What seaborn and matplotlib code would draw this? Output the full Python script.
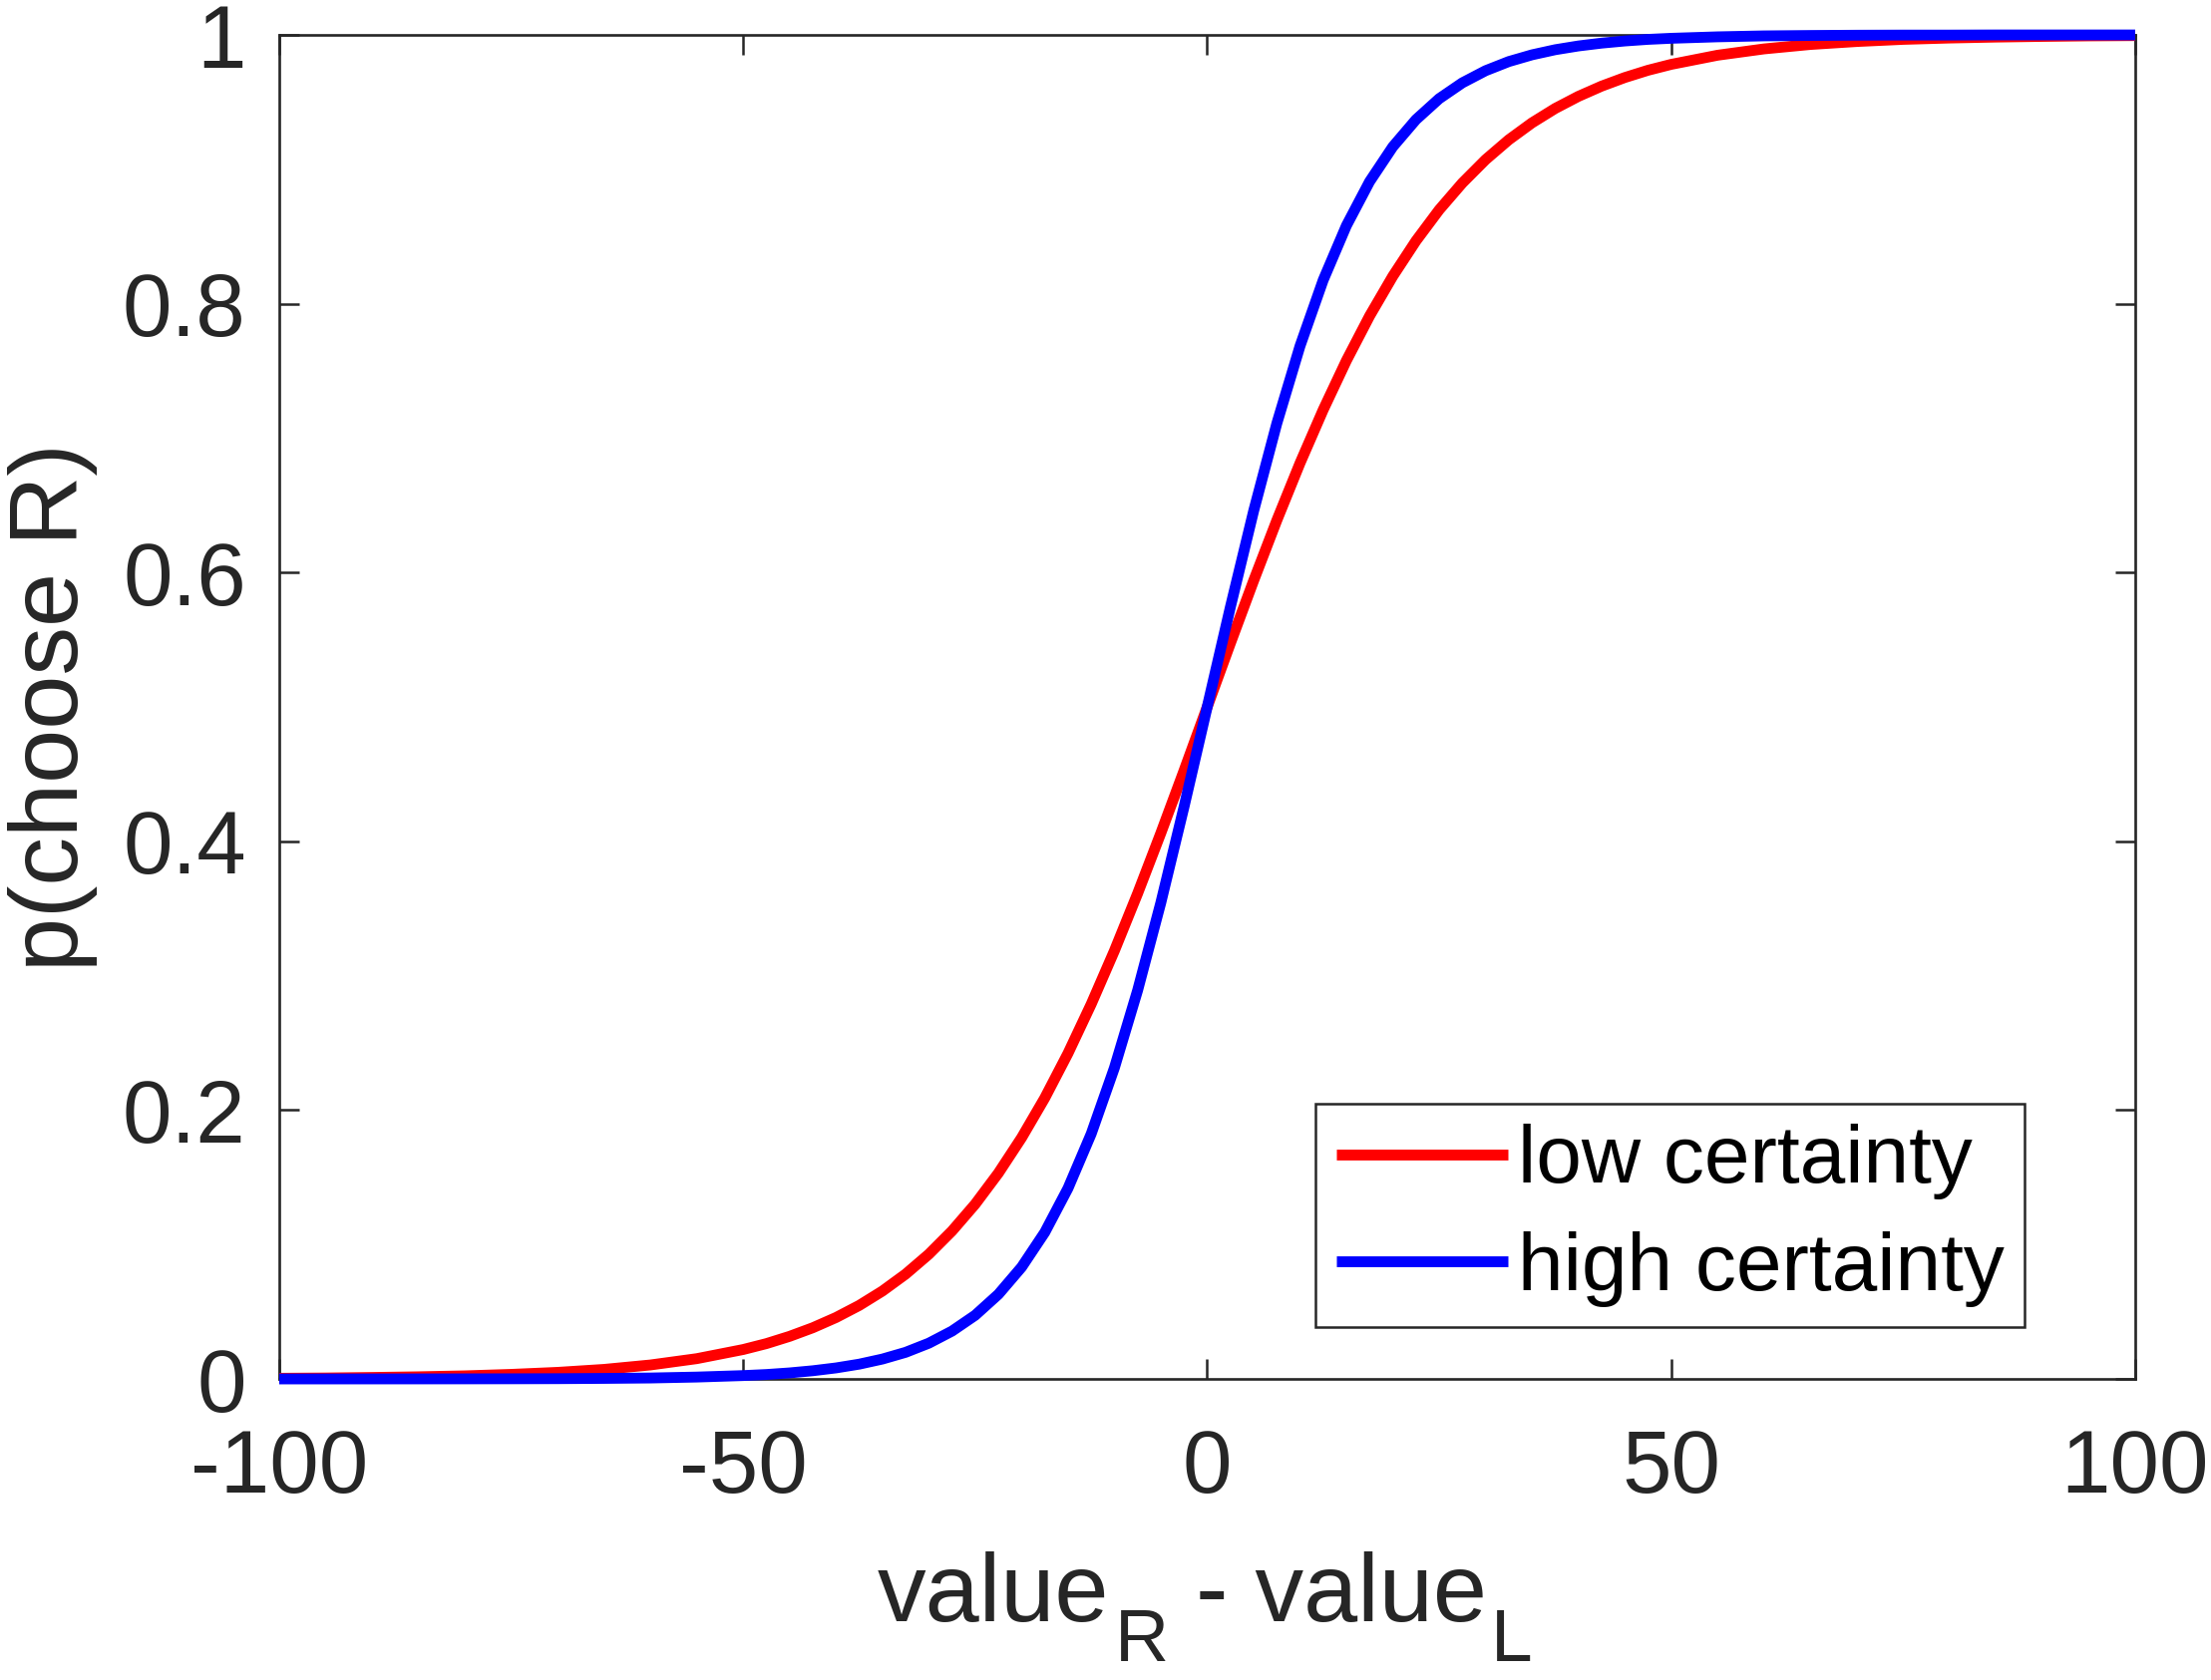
import numpy as np
import pandas as pd
import matplotlib
matplotlib.use("Agg")
import matplotlib.pyplot as plt
import seaborn as sns
from matplotlib.lines import Line2D

# ---- data ----
x_vals = [-100, -95, -90, -85, -80, -75, -70, -65, -60, -55, -50, -47.5, -45, -42.5, -40,
          -37.5, -35, -32.5, -30, -27.5, -25, -22.5, -20, -17.5, -15, -12.5, -10, -7.5,
          -5, -2.5, 0, 2.5, 5, 7.5, 10, 12.5, 15, 17.5, 20, 22.5, 25, 27.5, 30, 32.5,
          35, 37.5, 40, 42.5, 45, 47.5, 50, 55, 60, 65, 70, 75, 80, 85, 90, 95, 100]

low_certainty = [0.0005, 0.0007, 0.0011, 0.0016, 0.0023, 0.0034, 0.0049, 0.0071, 0.0104,
                 0.0151, 0.0219, 0.0263, 0.0317, 0.0381, 0.0457, 0.0547, 0.0654, 0.0780,
                 0.0928, 0.1101, 0.1301, 0.1532, 0.1795, 0.2091, 0.2423, 0.2789, 0.3186,
                 0.3612, 0.4061, 0.4526, 0.5000, 0.5474, 0.5939, 0.6388, 0.6814, 0.7211,
                 0.7577, 0.7909, 0.8205, 0.8468, 0.8699, 0.8899, 0.9072, 0.9220, 0.9346,
                 0.9453, 0.9543, 0.9619, 0.9683, 0.9737, 0.9781, 0.9849, 0.9896, 0.9929,
                 0.9951, 0.9967, 0.9977, 0.9984, 0.9989, 0.9993, 0.9995]

high_certainty = [0.00001, 0.00001, 0.00002, 0.00004, 0.00007, 0.00012, 0.0002, 0.0004,
                  0.0007, 0.0014, 0.0025, 0.0033, 0.0045, 0.0061, 0.0082, 0.0110, 0.0148,
                  0.0198, 0.0266, 0.0356, 0.0474, 0.0630, 0.0832, 0.1091, 0.1419, 0.1824,
                  0.2315, 0.2891, 0.3543, 0.4256, 0.5000, 0.5744, 0.6457, 0.7109, 0.7685,
                  0.8176, 0.8581, 0.8909, 0.9168, 0.9370, 0.9526, 0.9644, 0.9734, 0.9802,
                  0.9852, 0.9890, 0.9918, 0.9939, 0.9955, 0.9967, 0.9975, 0.9986, 0.9993,
                  0.9996, 0.9998, 0.9999, 0.9999, 1.0000, 1.0000, 1.0000, 1.0000]

series_names = ["low certainty", "high certainty"]
series_colors = {"low certainty": "#ff0000", "high certainty": "#0000ff"}
x_ticks = [-100, -50, 0, 50, 100]
x_ticklabels = ["-100", "-50", "0", "50", "100"]
y_ticks = [0, 0.2, 0.4, 0.6, 0.8, 1]
y_ticklabels = ["0", "0.2", "0.4", "0.6", "0.8", "1"]
x_label_parts = ["value", "R", " - value", "L"]
y_label = "p(choose R)"

df = pd.DataFrame({
    "x": x_vals * 2,
    "p": low_certainty + high_certainty,
    "condition": [series_names[0]] * len(x_vals) + [series_names[1]] * len(x_vals),
})

# ---- style ----
sns.set_theme(style="white")
plt.rcParams["font.family"] = ["Liberation Sans", "DejaVu Sans"]
TXT = "#262626"
W, H = 2217, 1685

fig = plt.figure(figsize=(W / 100, H / 100), dpi=100)
ax = fig.add_axes([0.1263, 0.1792, 0.8394, 0.8000])

sns.lineplot(data=df, x="x", y="p", hue="condition", palette=series_colors,
             hue_order=series_names, estimator=None, sort=True, lw=7.8,
             legend=False, ax=ax)
for ln in ax.lines:
    ln.set_clip_on(False)
    ln.set_solid_capstyle("butt")
    ln.set_zorder(3)

ax.set_xlim(-100, 100)
ax.set_ylim(0, 1)
ax.set_xticks(x_ticks)
ax.set_xticklabels(x_ticklabels)
ax.set_yticks(y_ticks)
ax.set_yticklabels(y_ticklabels)

for s in ax.spines.values():
    s.set_visible(True)
    s.set_color(TXT)
    s.set_linewidth(1.9)

ax.tick_params(axis="both", which="both", direction="in", length=14.4, width=1.8,
               color=TXT, labelcolor=TXT, labelsize=64,
               top=True, right=True, bottom=True, left=True)
ax.tick_params(axis="x", pad=35)
ax.tick_params(axis="y", pad=24)

ax.set_xlabel("")
ax.set_ylabel(y_label, fontsize=70, color=TXT)
ax.yaxis.set_label_coords(-0.098, 0.5)

handles = [Line2D([0], [0], color=series_colors[n], lw=7.8, solid_capstyle="butt")
           for n in series_names]
leg = ax.legend(handles, series_names, loc="lower right",
                bbox_to_anchor=(0.9404, 0.0386), borderaxespad=0,
                fontsize=59, frameon=True, fancybox=False, shadow=False,
                framealpha=1, edgecolor=TXT, borderpad=0.25, labelspacing=0.38,
                handlelength=2.1, handletextpad=0.12)
leg.get_frame().set_linewidth(1.8)
for t in leg.get_texts():
    t.set_color("black")

# ---- x label with large, dropped subscripts (built from text pieces) ----
sizes = [70, 54, 70, 54]
drops = [0, 40, 0, 40]
gaps = [0, 6, 0, 4]
main_base = 1626
center_x = 1208
texts = [fig.text(0, 0, s, fontsize=fs, color=TXT, ha="left", va="baseline")
         for s, fs in zip(x_label_parts, sizes)]
fig.canvas.draw()
renderer = fig.canvas.get_renderer()
widths = [t.get_window_extent(renderer).width for t in texts]
total = sum(widths) + sum(gaps)
cur = center_x - total / 2
for t, w, d, g in zip(texts, widths, drops, gaps):
    cur += g
    t.set_position((cur / W, 1 - (main_base + d) / H))
    cur += w

fig.savefig("out.png", dpi=100, facecolor="white")
